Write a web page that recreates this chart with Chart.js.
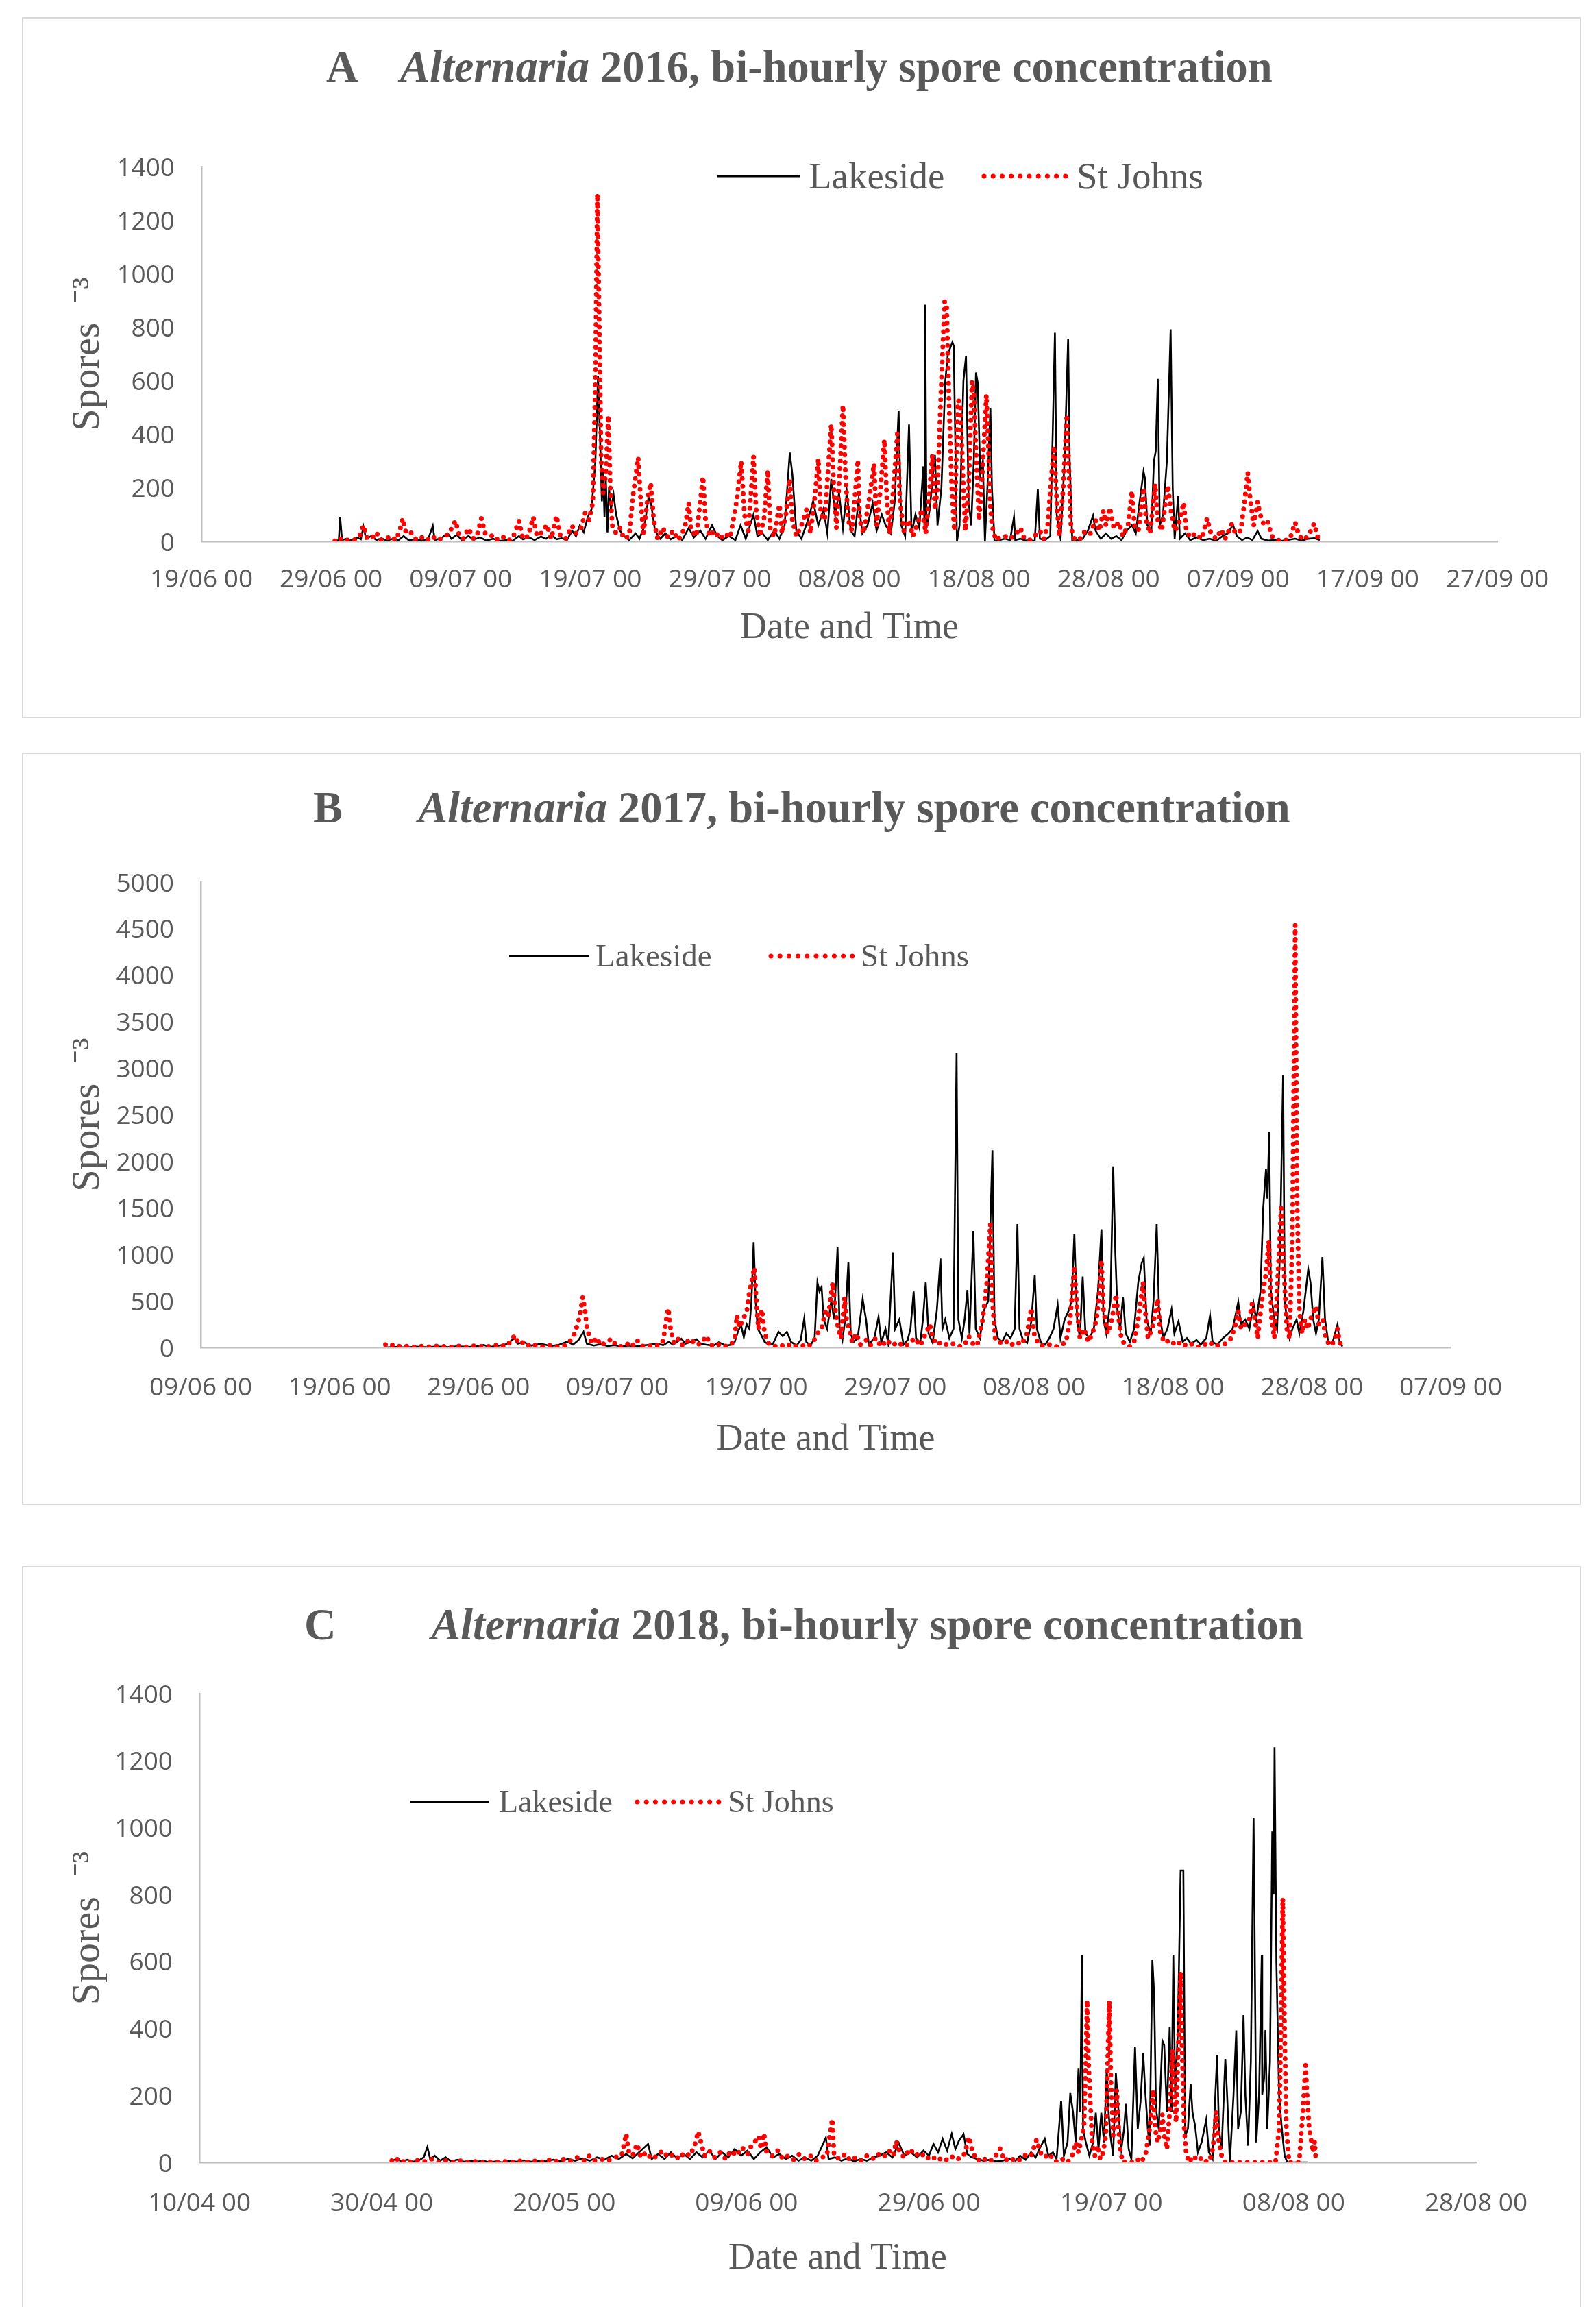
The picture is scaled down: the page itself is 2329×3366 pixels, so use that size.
<!DOCTYPE html>
<html>
<head>
<meta charset="utf-8">
<title>Alternaria bi-hourly spore concentration 2016-2018</title>
<script src="https://cdn.jsdelivr.net/npm/chart.js@4.4.1/dist/chart.umd.min.js"></script>
<style>
  html, body { margin: 0; padding: 0; background: #ffffff; }
  body { width: 2329px; height: 3366px; position: relative; overflow: hidden; }
  .box { position: absolute; border: 2px solid #d9d9d9; box-sizing: border-box; }
  canvas { position: absolute; left: 0; }
</style>
</head>
<body>
<div class="box" style="left:32px;top:25px;width:2275px;height:1023px"></div>
<div class="box" style="left:32px;top:1098px;width:2275px;height:1098px"></div>
<div class="box" style="left:32px;top:2285px;width:2275px;height:1110px"></div>
<canvas id="chartA" width="2329" height="1070" style="top:0px"></canvas>
<canvas id="chartB" width="2329" height="1120" style="top:1080px"></canvas>
<canvas id="chartC" width="2329" height="1106" style="top:2260px"></canvas>
<script>
// ---- Tick labels (x axis runs in days from the first label) ----
const xLabelsA = ['19/06 00','29/06 00','09/07 00','19/07 00','29/07 00','08/08 00','18/08 00','28/08 00','07/09 00','17/09 00','27/09 00'];
const xLabelsB = ['09/06 00','19/06 00','29/06 00','09/07 00','19/07 00','29/07 00','08/08 00','18/08 00','28/08 00','07/09 00'];
const xLabelsC = ['10/04 00','30/04 00','20/05 00','09/06 00','29/06 00','19/07 00','08/08 00','28/08 00'];

// ---- 2016: [days since 19/06 00, spores] ----
const lakesideA = [[10.3,0],[10.6,5],[10.7,92],[10.85,5],[11.2,10],[11.6,3],[12.0,15],[12.3,8],[12.5,55],[12.7,10],[13.1,20],[13.5,5],[13.9,12],[14.3,3],[14.8,10],[15.2,5],[15.6,20],[16.0,4],[16.5,8],[17.0,3],[17.5,10],[17.85,58],[18.0,5],[18.5,12],[19.0,30],[19.3,10],[19.7,25],[20.1,5],[20.6,20],[21.0,6],[21.5,15],[22.0,3],[22.5,10],[23.0,2],[23.5,5],[24.0,2],[24.5,20],[24.8,8],[25.3,15],[25.7,5],[26.2,18],[26.6,10],[27.0,25],[27.4,8],[27.8,12],[28.2,5],[28.6,40],[28.9,20],[29.2,60],[29.5,35],[29.8,90],[30.1,120],[30.4,300],[30.6,617],[30.75,400],[30.9,150],[31.0,260],[31.1,90],[31.2,240],[31.33,34],[31.45,200],[31.6,120],[31.8,175],[32.0,100],[32.3,40],[32.6,20],[33.0,5],[33.5,30],[33.8,10],[34.2,60],[34.5,166],[34.7,140],[35.0,40],[35.4,10],[35.8,30],[36.2,8],[36.7,20],[37.1,5],[37.6,50],[38.0,15],[38.5,40],[38.9,10],[39.4,60],[39.8,20],[40.2,5],[40.7,20],[41.2,5],[41.6,60],[42.0,10],[42.6,100],[42.9,20],[43.3,30],[43.7,5],[44.2,40],[44.6,10],[45.0,60],[45.4,332],[45.6,250],[45.9,40],[46.3,10],[46.8,80],[47.2,150],[47.6,60],[48.0,120],[48.3,30],[48.6,233],[48.9,100],[49.2,180],[49.5,50],[49.8,186],[50.1,40],[50.4,20],[50.7,150],[51.0,30],[51.4,60],[51.8,143],[52.1,40],[52.5,100],[52.8,60],[53.2,30],[53.5,150],[53.8,489],[54.0,60],[54.3,20],[54.6,437],[54.8,30],[55.1,100],[55.4,50],[55.7,280],[55.8,30],[55.85,884],[55.95,50],[56.2,120],[56.6,323],[56.8,60],[57.1,200],[57.4,600],[57.6,700],[57.95,744],[58.05,730],[58.3,0],[58.5,60],[58.8,600],[59.0,692],[59.2,150],[59.4,60],[59.6,300],[59.77,631],[59.9,593],[60.1,250],[60.3,300],[60.46,0],[60.65,200],[60.88,498],[61.0,200],[61.2,0],[61.6,5],[62.0,10],[62.4,5],[62.7,91],[62.8,5],[63.2,10],[63.6,3],[64.0,5],[64.3,0],[64.54,195],[64.7,10],[65.1,5],[65.5,20],[65.7,427],[65.86,779],[66.0,100],[66.3,10],[66.6,300],[66.88,757],[67.0,300],[67.2,0],[67.6,5],[68.0,10],[68.4,40],[68.8,96],[69.0,40],[69.4,10],[69.8,30],[70.2,10],[70.6,20],[71.0,5],[71.4,40],[71.8,60],[72.1,30],[72.4,150],[72.7,261],[72.8,238],[73.0,60],[73.3,40],[73.5,300],[73.64,337],[73.8,607],[73.95,60],[74.2,100],[74.5,300],[74.79,792],[74.95,200],[75.1,10],[75.37,171],[75.5,10],[75.9,30],[76.3,5],[76.8,15],[77.3,5],[77.8,10],[78.3,2],[78.8,20],[79.2,30],[79.6,62],[79.9,20],[80.3,5],[80.7,15],[81.1,5],[81.5,39],[81.8,10],[82.3,3],[82.8,5],[83.3,2],[83.8,5],[84.4,10],[84.9,3],[85.4,10],[85.9,12],[86.3,5]];

const stJohnsA = [[10.3,2],[10.6,15],[10.9,3],[11.3,5],[11.7,2],[12.2,20],[12.5,60],[12.8,10],[13.2,15],[13.5,34],[13.8,5],[14.2,8],[14.6,20],[15.0,5],[15.3,40],[15.53,86],[15.8,30],[16.2,32],[16.6,5],[17.0,15],[17.4,3],[17.8,20],[18.2,5],[18.7,15],[19.1,30],[19.6,77],[19.9,20],[20.2,10],[20.6,49],[21.0,10],[21.3,30],[21.6,86],[21.9,30],[22.3,26],[22.7,5],[23.2,20],[23.6,3],[24.0,10],[24.5,77],[24.8,10],[25.2,20],[25.6,91],[25.9,20],[26.2,30],[26.65,62],[27.0,10],[27.4,96],[27.7,20],[28.1,10],[28.6,58],[28.9,30],[29.3,50],[29.6,105],[29.9,80],[30.2,145],[30.4,600],[30.55,1298],[30.7,800],[30.85,300],[31.0,180],[31.2,250],[31.4,470],[31.55,200],[31.7,60],[32.0,30],[32.3,50],[32.6,10],[33.0,20],[33.3,170],[33.7,313],[33.9,150],[34.1,30],[34.4,150],[34.67,219],[34.9,80],[35.2,10],[35.6,50],[36.0,15],[36.4,40],[36.8,5],[37.3,50],[37.6,143],[37.8,40],[38.2,20],[38.7,242],[38.9,80],[39.2,20],[39.6,40],[40.0,10],[40.4,30],[40.8,15],[41.3,150],[41.65,299],[41.9,100],[42.2,40],[42.6,318],[42.8,120],[43.1,20],[43.4,80],[43.7,266],[43.9,40],[44.2,20],[44.6,138],[44.8,30],[45.1,100],[45.4,233],[45.6,80],[45.9,20],[46.3,60],[46.7,120],[47.0,30],[47.3,150],[47.6,309],[47.8,100],[48.1,80],[48.4,300],[48.6,437],[48.8,200],[49.0,50],[49.3,300],[49.5,509],[49.7,250],[49.9,80],[50.2,40],[50.4,150],[50.65,304],[50.8,80],[51.1,30],[51.5,150],[51.9,290],[52.1,60],[52.4,200],[52.7,380],[52.9,150],[53.1,30],[53.4,200],[53.7,403],[53.9,150],[54.2,40],[54.6,80],[54.9,20],[55.2,60],[55.6,120],[55.9,30],[56.2,200],[56.4,323],[56.6,120],[56.8,200],[57.1,600],[57.35,896],[57.5,890],[57.7,500],[57.9,200],[58.1,40],[58.37,527],[58.55,520],[58.8,200],[58.95,40],[59.2,200],[59.46,598],[59.6,560],[59.8,300],[60.0,80],[60.2,200],[60.57,547],[60.7,400],[60.85,150],[61.0,60],[61.3,5],[61.6,15],[62.0,20],[62.4,10],[62.8,25],[63.2,51],[63.5,10],[63.9,5],[64.3,20],[64.7,40],[65.0,10],[65.3,60],[65.6,250],[65.8,356],[66.0,150],[66.2,20],[66.5,200],[66.78,474],[66.95,250],[67.1,50],[67.4,5],[67.8,10],[68.2,40],[68.6,30],[69.0,80],[69.3,40],[69.6,115],[69.8,60],[70.1,126],[70.4,50],[70.8,72],[71.1,20],[71.5,60],[71.8,188],[72.0,60],[72.3,40],[72.7,200],[72.9,80],[73.2,30],[73.6,214],[73.8,80],[74.1,40],[74.58,209],[74.8,120],[75.1,40],[75.4,60],[75.8,145],[76.0,40],[76.3,15],[76.7,30],[77.2,10],[77.6,86],[77.9,30],[78.3,10],[78.7,44],[79.0,10],[79.5,64],[79.8,30],[80.2,40],[80.5,150],[80.74,257],[80.95,150],[81.2,60],[81.5,148],[81.7,100],[82.0,60],[82.3,72],[82.6,20],[83.0,5],[83.5,2],[84.0,10],[84.4,71],[84.7,20],[85.1,5],[85.5,30],[85.87,67],[86.2,5]];

// ---- 2017: [days since 09/06 00, spores] ----
const lakesideB = [[13.3,0],[14.0,5],[14.8,0],[15.5,8],[16.3,2],[17.0,10],[17.8,3],[18.5,12],[19.3,5],[20.0,15],[20.36,27],[20.8,5],[21.5,20],[22.0,35],[22.6,100],[22.8,40],[23.3,55],[23.8,20],[24.5,40],[25.2,15],[25.8,30],[26.4,64],[26.8,30],[27.2,80],[27.56,167],[27.8,40],[28.3,20],[28.8,35],[29.3,15],[29.8,25],[30.3,10],[30.8,20],[31.3,10],[31.8,20],[32.3,30],[32.8,40],[33.3,25],[33.7,60],[34.0,30],[34.6,93],[34.9,40],[35.3,60],[35.7,88],[36.0,40],[36.4,30],[36.9,20],[37.3,56],[37.8,20],[38.2,30],[38.45,60],[38.7,180],[38.9,240],[39.1,110],[39.3,250],[39.5,200],[39.65,500],[39.81,1132],[39.95,500],[40.1,200],[40.3,150],[40.6,60],[40.9,30],[41.2,40],[41.6,167],[41.9,120],[42.2,167],[42.5,60],[42.9,20],[43.2,80],[43.45,312],[43.6,60],[43.9,20],[44.2,100],[44.4,698],[44.55,600],[44.7,650],[44.85,300],[45.1,200],[45.4,500],[45.6,300],[45.85,1074],[46.0,200],[46.2,80],[46.4,300],[46.63,916],[46.8,150],[47.0,60],[47.3,100],[47.66,521],[47.9,300],[48.1,30],[48.5,100],[48.8,328],[49.0,50],[49.3,200],[49.5,40],[49.84,1019],[50.0,200],[50.3,300],[50.6,30],[50.9,80],[51.1,200],[51.33,601],[51.5,100],[51.8,50],[52.0,300],[52.2,698],[52.4,150],[52.7,50],[53.0,400],[53.26,955],[53.4,200],[53.6,300],[53.9,100],[54.2,200],[54.42,3164],[54.55,300],[54.8,100],[55.0,300],[55.2,617],[55.35,150],[55.63,1251],[55.8,200],[56.1,100],[56.4,400],[56.7,500],[57.0,2119],[57.15,300],[57.4,100],[57.7,60],[58.0,150],[58.3,100],[58.6,200],[58.8,1325],[58.95,200],[59.2,80],[59.5,50],[59.8,280],[60.05,778],[60.2,200],[60.5,50],[60.8,30],[61.1,100],[61.4,200],[61.7,457],[61.9,100],[62.2,300],[62.5,400],[62.7,500],[62.9,1219],[63.1,300],[63.3,100],[63.5,762],[63.7,150],[64.0,100],[64.3,200],[64.6,600],[64.85,1270],[65.0,300],[65.2,150],[65.5,500],[65.7,1945],[65.85,1019],[66.0,400],[66.2,200],[66.4,543],[66.6,150],[66.9,60],[67.2,200],[67.5,700],[67.75,907],[67.9,961],[68.1,300],[68.4,150],[68.6,500],[68.83,1325],[69.0,400],[69.3,100],[69.6,200],[69.9,408],[70.1,150],[70.4,280],[70.7,60],[71.0,100],[71.3,40],[71.7,80],[72.0,30],[72.4,100],[72.67,344],[72.85,60],[73.2,30],[73.6,100],[74.0,150],[74.3,200],[74.7,489],[74.9,250],[75.2,300],[75.5,200],[75.8,473],[76.0,300],[76.3,600],[76.5,1500],[76.7,1919],[76.8,1600],[76.93,2312],[77.05,600],[77.3,300],[77.5,200],[77.7,1000],[77.93,2929],[78.05,500],[78.2,300],[78.4,100],[78.6,200],[78.9,300],[79.1,150],[79.4,400],[79.74,842],[79.9,700],[80.1,300],[80.3,150],[80.5,300],[80.76,971],[80.95,300],[81.2,40],[81.5,60],[81.85,248],[82.0,60],[82.2,10]];

const stJohnsB = [[13.3,30],[13.6,44],[14.0,5],[14.6,20],[15.2,0],[15.8,15],[16.5,5],[17.2,20],[17.9,0],[18.5,15],[19.2,5],[19.8,20],[20.4,5],[21.0,15],[21.5,34],[21.9,10],[22.3,60],[22.6,130],[22.9,40],[23.35,61],[23.7,10],[24.2,30],[24.7,5],[25.2,25],[25.7,10],[26.2,20],[26.5,50],[26.86,130],[27.1,235],[27.3,343],[27.5,540],[27.65,420],[27.8,216],[28.0,100],[28.2,40],[28.5,105],[28.8,20],[29.2,60],[29.6,93],[29.9,20],[30.3,10],[30.7,40],[31.0,5],[31.4,81],[31.7,20],[32.1,5],[32.6,30],[33.0,20],[33.3,74],[33.5,282],[33.66,420],[33.85,174],[34.1,40],[34.4,93],[34.7,20],[35.0,60],[35.3,93],[35.6,30],[36.0,40],[36.4,123],[36.7,30],[37.0,10],[37.4,40],[37.8,15],[38.2,30],[38.45,105],[38.6,344],[38.8,216],[39.0,300],[39.3,375],[39.5,600],[39.87,858],[40.0,500],[40.15,200],[40.4,408],[40.6,150],[40.9,40],[41.3,10],[41.7,30],[42.1,5],[42.5,40],[42.9,10],[43.3,20],[43.7,5],[44.1,60],[44.4,150],[44.7,200],[45.0,400],[45.2,350],[45.5,698],[45.7,400],[45.9,200],[46.1,100],[46.35,537],[46.5,300],[46.7,200],[46.9,60],[47.2,150],[47.5,30],[47.9,80],[48.2,20],[48.6,100],[49.0,10],[49.4,80],[49.8,20],[50.2,60],[50.6,10],[51.0,40],[51.4,100],[51.8,20],[52.2,150],[52.5,248],[52.7,100],[53.0,30],[53.4,60],[53.8,20],[54.2,40],[54.6,10],[55.0,30],[55.3,120],[55.6,40],[55.9,20],[56.3,300],[56.6,700],[56.85,1325],[57.0,500],[57.2,100],[57.5,50],[57.9,80],[58.3,20],[58.7,60],[59.1,30],[59.5,150],[59.8,424],[60.0,150],[60.3,40],[60.7,10],[61.1,30],[61.5,5],[61.9,20],[62.3,60],[62.6,300],[62.9,875],[63.1,400],[63.3,100],[63.6,200],[63.9,60],[64.2,150],[64.5,300],[64.7,600],[64.85,939],[65.0,400],[65.3,150],[65.6,300],[65.9,569],[66.1,300],[66.3,80],[66.6,30],[66.9,10],[67.2,60],[67.5,300],[67.84,698],[68.0,400],[68.2,100],[68.5,200],[68.9,521],[69.1,150],[69.4,50],[69.8,80],[70.2,20],[70.6,60],[71.0,10],[71.4,40],[71.8,5],[72.2,20],[72.6,60],[73.0,10],[73.4,30],[73.8,40],[74.2,100],[74.5,250],[74.7,392],[74.9,200],[75.2,250],[75.5,300],[75.7,473],[75.9,300],[76.1,100],[76.4,500],[76.7,800],[76.9,1148],[77.1,300],[77.3,100],[77.5,600],[77.8,1534],[78.0,800],[78.2,200],[78.4,100],[78.6,1200],[78.8,4540],[78.95,1500],[79.1,400],[79.3,150],[79.5,300],[79.7,200],[80.0,350],[80.3,440],[80.5,250],[80.8,300],[81.0,100],[81.3,20],[81.6,60],[81.85,200],[82.0,50],[82.2,20]];

// ---- 2018: [days since 10/04 00, spores] ----
const lakesideC = [[21.1,5],[21.6,10],[22.2,3],[22.8,8],[23.4,2],[24.0,5],[24.6,15],[25.0,46],[25.3,10],[25.8,20],[26.4,5],[27.0,15],[27.6,3],[28.3,8],[29.0,2],[29.7,5],[30.4,2],[31.1,5],[31.8,0],[32.5,3],[33.2,0],[34.0,5],[34.8,2],[35.6,6],[36.4,2],[37.2,5],[38.0,3],[38.8,8],[39.6,3],[40.4,10],[41.2,5],[42.0,12],[42.8,5],[43.6,15],[44.4,8],[45.2,20],[46.0,10],[46.8,25],[47.5,12],[48.2,30],[49.2,55],[49.6,10],[50.3,25],[51.0,10],[51.7,30],[52.4,12],[53.1,25],[53.8,10],[54.5,30],[55.2,15],[55.9,35],[56.6,10],[57.3,30],[58.0,15],[58.7,40],[59.4,20],[60.1,35],[60.8,10],[61.5,30],[62.2,45],[62.9,15],[63.6,25],[64.3,10],[65.0,20],[65.7,5],[66.4,15],[67.1,5],[67.8,20],[68.7,74],[69.0,10],[69.7,15],[70.4,5],[71.1,12],[71.8,3],[72.5,10],[73.2,5],[73.9,15],[74.6,20],[75.3,30],[76.0,15],[76.7,58],[77.3,20],[78.0,30],[78.7,15],[79.4,35],[80.0,20],[80.5,55],[81.0,30],[81.5,70],[82.0,35],[82.5,85],[82.9,40],[83.3,65],[83.8,84],[84.2,25],[84.7,15],[85.3,10],[86.0,5],[86.7,8],[87.4,3],[88.1,5],[88.8,10],[89.5,5],[90.0,20],[90.6,8],[91.2,30],[91.7,15],[92.2,45],[92.7,70],[93.1,20],[93.6,30],[94.0,10],[94.5,184],[94.8,20],[95.2,60],[95.5,207],[95.8,150],[96.1,60],[96.4,280],[96.6,150],[96.77,620],[96.9,100],[97.2,60],[97.6,20],[98.0,60],[98.3,148],[98.6,40],[98.9,148],[99.2,60],[99.5,280],[99.7,150],[99.9,80],[100.2,20],[100.5,267],[100.8,150],[101.1,40],[101.4,100],[101.6,175],[101.9,40],[102.2,10],[102.6,346],[102.9,100],[103.2,180],[103.5,326],[103.7,221],[104.0,100],[104.2,50],[104.5,605],[104.7,500],[104.9,161],[105.2,100],[105.6,363],[105.8,350],[106.1,150],[106.4,404],[106.6,150],[106.8,620],[107.0,200],[107.3,400],[107.6,872],[107.9,872],[108.1,80],[108.4,100],[108.7,235],[108.9,150],[109.2,107],[109.5,30],[109.9,60],[110.4,127],[110.7,30],[111.1,10],[111.6,321],[111.8,100],[112.1,40],[112.5,309],[112.7,200],[113.0,0],[113.4,200],[113.7,394],[113.9,100],[114.2,150],[114.5,440],[114.7,200],[115.0,50],[115.3,300],[115.6,1029],[115.7,732],[115.9,60],[116.2,200],[116.5,620],[116.55,203],[116.75,250],[116.9,395],[117.1,100],[117.4,300],[117.65,988],[117.8,800],[117.9,1240],[118.1,600],[118.4,200],[118.7,100],[119.0,20],[119.3,0],[121.6,0]];

const stJohnsC = [[21.1,5],[21.5,15],[22.0,0],[22.7,5],[23.4,0],[24.1,8],[24.8,2],[25.5,10],[26.2,0],[27.0,5],[27.8,0],[28.6,5],[29.4,0],[30.2,3],[31.0,0],[31.8,2],[32.6,0],[33.4,3],[34.2,0],[35.0,5],[35.8,0],[36.6,5],[37.4,0],[38.2,8],[39.0,2],[39.8,10],[40.6,3],[41.4,15],[42.2,5],[42.7,20],[43.3,5],[44.0,10],[44.8,5],[45.5,15],[46.3,20],[46.8,85],[47.1,30],[47.5,20],[48.0,55],[48.4,15],[49.0,30],[49.6,10],[50.2,20],[50.8,35],[51.4,15],[52.0,25],[52.6,10],[53.2,30],[53.8,20],[54.3,50],[54.7,92],[55.0,60],[55.4,20],[55.9,35],[56.5,15],[57.1,30],[57.7,10],[58.3,35],[58.9,20],[59.5,45],[60.1,25],[60.6,55],[61.0,65],[61.3,78],[61.6,40],[61.9,87],[62.2,30],[62.8,20],[63.4,35],[64.0,10],[64.6,20],[65.2,8],[65.8,25],[66.4,10],[67.0,20],[67.6,5],[68.2,15],[68.8,20],[69.4,130],[69.6,20],[70.2,10],[70.8,25],[71.4,5],[72.0,15],[72.6,5],[73.2,20],[73.8,10],[74.4,25],[75.0,15],[75.6,35],[76.1,20],[76.4,64],[76.8,30],[77.3,15],[77.9,40],[78.5,20],[79.1,30],[79.7,10],[80.3,20],[80.9,5],[81.5,15],[82.1,5],[82.7,20],[83.3,10],[83.9,25],[84.4,76],[84.8,30],[85.3,5],[85.9,15],[86.5,2],[87.1,10],[87.8,41],[88.3,5],[88.9,15],[89.5,3],[90.1,10],[90.7,25],[91.2,20],[91.8,68],[92.2,30],[92.7,15],[93.2,26],[93.7,5],[94.2,0],[94.7,10],[95.2,0],[95.7,20],[96.1,60],[96.4,30],[96.8,80],[97.0,107],[97.2,300],[97.35,484],[97.5,300],[97.7,180],[97.9,60],[98.2,20],[98.5,50],[98.8,10],[99.1,30],[99.4,80],[99.6,300],[99.78,481],[99.95,250],[100.2,80],[100.45,150],[100.6,216],[100.8,100],[101.0,30],[101.3,0],[101.8,5],[102.3,0],[102.8,10],[103.3,0],[103.8,30],[104.2,100],[104.6,216],[104.8,100],[105.1,60],[105.4,100],[105.6,143],[105.8,80],[106.1,40],[106.4,150],[106.7,335],[106.9,200],[107.1,120],[107.3,300],[107.6,568],[107.8,300],[108.0,100],[108.2,30],[108.5,0],[109.0,20],[109.5,5],[110.0,15],[110.5,0],[111.0,20],[111.3,80],[111.5,152],[111.8,60],[112.1,20],[112.5,0],[113.1,0],[113.8,0],[114.5,0],[115.2,0],[115.9,0],[116.6,0],[117.3,0],[118.0,0],[118.4,100],[118.6,400],[118.8,788],[119.0,400],[119.2,100],[119.5,0],[120.1,0],[120.6,0],[121.0,150],[121.3,290],[121.5,186],[121.7,100],[121.9,70],[122.1,30],[122.3,63],[122.4,20]];

// ---- drawing ----
const GREY = '#595959';
const SERIF = '"Liberation Serif", "Times New Roman", serif';
const SANS = '"Open Sans", "Liberation Sans", sans-serif';
Chart.defaults.color = GREY;

const toXY = pairs => pairs.map(([x, y]) => ({ x, y }));

// Heading (mixed italic/bold) and a free-standing legend for each panel
function panelDecor(p) {
  return {
    id: 'panelDecor',
    afterDatasetsDraw(chart) {
      const c = chart.ctx;
      c.save();
      c.fillStyle = GREY;
      c.textAlign = 'left';
      c.textBaseline = 'alphabetic';
      const h = p.heading;
      c.font = `bold ${h.size}px ${SERIF}`;
      c.fillText(h.letter, h.letterX, h.baseline);
      let x = h.textX;
      c.font = `italic bold ${h.size}px ${SERIF}`;
      c.fillText(h.genus, x, h.baseline);
      x += c.measureText(h.genus).width;
      c.font = `bold ${h.size}px ${SERIF}`;
      c.fillText(h.rest, x, h.baseline);

      const lg = p.legend;
      chart.data.datasets.forEach((ds, i) => {
        const it = lg.items[i];
        c.save();
        c.beginPath();
        c.strokeStyle = ds.borderColor;
        c.lineWidth = i === 0 ? 3 : ds.borderWidth;
        c.lineCap = i === 0 ? 'butt' : 'round';
        c.setLineDash(i === 0 ? [] : [0, 13.2]);
        c.moveTo(it.x0, lg.y);
        c.lineTo(it.x1, lg.y);
        c.stroke();
        c.restore();
        c.font = `${lg.size}px ${SERIF}`;
        c.fillStyle = GREY;
        c.fillText(ds.label, it.tx, lg.baseline);
      });
      c.restore();
    }
  };
}

function buildChart(id, p) {
  return new Chart(document.getElementById(id), {
    type: 'line',
    data: {
      datasets: [
        { label: 'Lakeside', data: toXY(p.lake), borderColor: '#000000', borderWidth: 2.6,
          pointRadius: 0, tension: 0, order: 1 },
        { label: 'St Johns', data: toXY(p.john), borderColor: '#ff0000', borderWidth: 7,
          borderDash: [0, 11], borderCapStyle: 'round', borderJoinStyle: 'round',
          pointRadius: 0, tension: 0, order: 0 }
      ]
    },
    options: {
      responsive: false,
      animation: false,
      devicePixelRatio: 1,
      parsing: false,
      events: [],
      layout: { padding: p.pad },
      plugins: { legend: { display: false }, tooltip: { enabled: false } },
      scales: {
        x: {
          type: 'linear', min: 0, max: p.xMax,
          grid: { display: false, drawTicks: false },
          border: { display: true, color: '#bfbfbf', width: 2.5 },
          ticks: {
            stepSize: p.xStep, autoSkip: false, maxRotation: 0, padding: p.xTickPad,
            font: { family: SANS, size: 37 }, color: GREY,
            callback: (v, i) => p.labels[i]
          },
          title: { display: true, text: 'Date and Time', color: GREY,
                   font: { family: SERIF, size: 54 }, padding: { top: 0, bottom: p.xTitlePad } },
          afterFit: s => { s.height = 200; }
        },
        y: {
          min: 0, max: p.yMax,
          grid: { display: false, drawTicks: false },
          border: { display: true, color: '#bfbfbf', width: 2.5 },
          ticks: { stepSize: p.yStep, padding: 39, labelOffset: 3,
                   font: { family: SANS, size: 37 }, color: GREY,
                   callback: v => String(v) },
          title: { display: true, text: 'Spores  \u207B\u00B3', color: GREY,
                   font: { family: SERIF, size: 58 }, padding: { top: 74, bottom: 0 } },
          afterFit: s => { s.width = p.yWidth; }
        }
      }
    },
    plugins: [panelDecor(p)]
  });
}

buildChart('chartA', {
  lake: lakesideA, john: stJohnsA, labels: xLabelsA,
  xMax: 100, xStep: 10, yMax: 1400, yStep: 200,
  pad: { left: 20, right: 144, top: 243, bottom: 80 }, yWidth: 274,
  xTickPad: 34, xTitlePad: 41,
  heading: { letter: 'A', genus: 'Alternaria', rest: ' 2016, bi-hourly spore concentration',
             size: 64.5, letterX: 476, textX: 584, baseline: 119 },
  legend: { y: 257, baseline: 275, size: 55,
            items: [{ x0: 1047, x1: 1167, tx: 1180 }, { x0: 1436, x1: 1557, tx: 1571 }] }
});

buildChart('chartB', {
  lake: lakesideB, john: stJohnsB, labels: xLabelsB,
  xMax: 90, xStep: 10, yMax: 5000, yStep: 500,
  pad: { left: 20, right: 212, top: 207, bottom: 34 }, yWidth: 273,
  xTickPad: 37, xTitlePad: 33,
  heading: { letter: 'B', genus: 'Alternaria', rest: ' 2017, bi-hourly spore concentration',
             size: 64.5, letterX: 457, textX: 610, baseline: 120 },
  legend: { y: 315, baseline: 330, size: 47,
            items: [{ x0: 743, x1: 859, tx: 869 }, { x0: 1125, x1: 1245, tx: 1256 }] }
});

buildChart('chartC', {
  lake: lakesideC, john: stJohnsC, labels: xLabelsC,
  xMax: 140, xStep: 20, yMax: 1400, yStep: 200,
  pad: { left: 20, right: 175, top: 211, bottom: 11 }, yWidth: 271,
  xTickPad: 38, xTitlePad: 27,
  heading: { letter: 'C', genus: 'Alternaria', rest: ' 2018, bi-hourly spore concentration',
             size: 64.5, letterX: 444, textX: 629, baseline: 132 },
  legend: { y: 369, baseline: 384, size: 46,
            items: [{ x0: 599, x1: 713, tx: 728 }, { x0: 930, x1: 1049, tx: 1062 }] }
});
</script>
</body>
</html>
